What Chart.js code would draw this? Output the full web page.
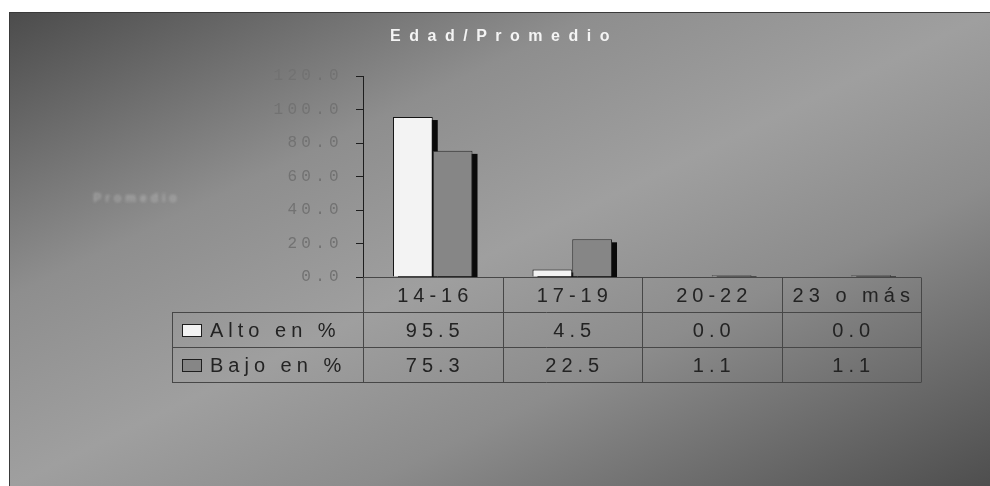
<!DOCTYPE html>
<html>
<head>
<meta charset="utf-8">
<script src="https://cdn.jsdelivr.net/npm/chart.js@4/dist/chart.umd.min.js"></script>
<style>
  html, body { margin: 0; padding: 0; background: #ffffff; }
  #wrap { position: relative; width: 990px; height: 486px; overflow: hidden; }
  #panel {
    position: absolute; left: 9px; top: 12px; width: 981px; height: 474px;
    background: linear-gradient(to bottom right, #4c4c4c 0%, #8e8e8e 30%, #9f9f9f 50%, #8c8c8c 68%, #4e4e4e 100%);
    border-top: 1px solid #3a3a3a; border-left: 1px solid #3a3a3a;
    box-sizing: border-box;
  }
  #chart { position: absolute; left: 0; top: 0; }
</style>
</head>
<body>
<div id="wrap">
  <div id="panel"></div>
  <canvas id="chart" width="990" height="486"></canvas>
</div>
<script>
// Age groups and the share (%) of "alto" / "bajo" averages in each group
const categories = ['14-16', '17-19', '20-22', '23 o más'];
const altoValues = [95.5, 4.5, 0.0, 0.0];
const bajoValues = [75.3, 22.5, 1.1, 1.1];
const seriesNames = ['Alto en %', 'Bajo en %'];
const chartTitle = 'Edad/Promedio';
const axisTitle = 'Promedio';
const yMin = 0, yMax = 120, yStep = 20;

const seriesFill = ['#f3f3f3', '#868686'];
const seriesBorder = ['#151515', '#2a2a2a'];

// Dark extruded side behind every bar
const barShadow = {
  id: 'barShadow',
  beforeDatasetsDraw(chart) {
    const ctx = chart.ctx;
    ctx.save();
    ctx.fillStyle = '#0a0a0a';
    chart.data.datasets.forEach((ds, di) => {
      const meta = chart.getDatasetMeta(di);
      meta.data.forEach((bar, i) => {
        if (!ds.data[i]) return;
        const left = bar.x - bar.width / 2;
        const h = bar.base - bar.y;
        const dy = Math.min(3, h);
        ctx.fillRect(left + 5, bar.y + dy, bar.width, h - dy + 1);
      });
    });
    ctx.restore();
  }
};

// Tick text spacing, title, side label and the data table under the axis
const decorations = {
  id: 'decorations',
  beforeDraw(chart) {
    chart.ctx.letterSpacing = '4.3px';
  },
  afterDraw(chart) {
    const ctx = chart.ctx;
    const area = chart.chartArea;
    const xs = chart.scales.x;
    const n = categories.length;
    const colW = (area.right - area.left) / n;
    const rowH = 35;
    const top = area.bottom;
    const legendLeft = 172;

    ctx.save();
    // title
    ctx.letterSpacing = '8.5px';
    ctx.font = 'bold 16px "Liberation Sans", Arial, sans-serif';
    ctx.fillStyle = '#f4f4f4';
    ctx.textAlign = 'center';
    ctx.textBaseline = 'middle';
    ctx.fillText(chartTitle, 500 + 4, 37);

    // faint side label
    ctx.save();
    ctx.filter = 'blur(1.6px)';
    ctx.letterSpacing = '4px';
    ctx.font = 'bold 12px "Liberation Sans", Arial, sans-serif';
    ctx.fillStyle = 'rgba(225,225,225,0.4)';
    ctx.fillText(axisTitle, 137, 199);
    ctx.restore();

    // table grid
    ctx.strokeStyle = '#474747';
    ctx.lineWidth = 1;
    const rows = [top, top + rowH, top + 2 * rowH, top + 3 * rowH].map(v => Math.round(v) + 0.5);
    ctx.beginPath();
    // header row spans the category columns
    ctx.moveTo(area.left, rows[0]); ctx.lineTo(area.right, rows[0]);
    // value rows span the legend column too
    for (let r = 1; r <= 3; r++) {
      ctx.moveTo(legendLeft, rows[r]); ctx.lineTo(area.right, rows[r]);
    }
    ctx.moveTo(legendLeft + 0.5, rows[1]); ctx.lineTo(legendLeft + 0.5, rows[3]);
    for (let i = 0; i <= n; i++) {
      const x = Math.round(area.left + i * colW) + 0.5;
      ctx.moveTo(x, rows[0]); ctx.lineTo(x, rows[3]);
    }
    ctx.stroke();

    // header and value text
    ctx.letterSpacing = '5px';
    ctx.font = '20px "Liberation Sans", Arial, sans-serif';
    ctx.fillStyle = '#232323';
    ctx.textAlign = 'center';
    ctx.textBaseline = 'middle';
    const series = [altoValues, bajoValues];
    categories.forEach((c, i) => {
      const cx = xs.getPixelForValue(i) + 2.5;
      ctx.fillText(c, cx, (rows[0] + rows[1]) / 2 + 1);
      series.forEach((vals, s) => {
        ctx.fillText(vals[i].toFixed(1), cx, (rows[s + 1] + rows[s + 2]) / 2 + 1);
      });
    });

    // legend keys
    ctx.textAlign = 'left';
    seriesNames.forEach((name, s) => {
      const cy = (rows[s + 1] + rows[s + 2]) / 2;
      ctx.fillStyle = seriesFill[s];
      ctx.fillRect(legendLeft + 10, cy - 6, 20, 13);
      ctx.strokeStyle = '#1e1e1e';
      ctx.strokeRect(legendLeft + 10.5, cy - 5.5, 19, 12);
      ctx.fillStyle = '#232323';
      ctx.fillText(name, legendLeft + 38, cy + 1);
    });
    ctx.restore();
  }
};

new Chart(document.getElementById('chart'), {
  type: 'bar',
  data: {
    labels: categories,
    datasets: [
      { label: seriesNames[0], data: altoValues, backgroundColor: seriesFill[0], borderColor: seriesBorder[0], borderWidth: 1 },
      { label: seriesNames[1], data: bajoValues, backgroundColor: seriesFill[1], borderColor: seriesBorder[1], borderWidth: 1 }
    ]
  },
  options: {
    responsive: false,
    animation: false,
    devicePixelRatio: 1,
    layout: { padding: { left: 0, right: 69, top: 76, bottom: 209 } },
    datasets: { bar: { categoryPercentage: 0.57, barPercentage: 1.0 } },
    plugins: {
      legend: { display: false },
      title: { display: false },
      tooltip: { enabled: false }
    },
    scales: {
      x: { display: false },
      y: {
        min: yMin,
        max: yMax,
        afterFit(scale) { scale.width = 363; },
        ticks: {
          stepSize: yStep,
          autoSkip: false,
          callback: v => Number(v).toFixed(1),
          font: { family: '"Liberation Mono", "Courier New", monospace', size: 16 },
          color: '#727272',
          padding: 13
        },
        grid: { drawOnChartArea: false, tickLength: 7, color: '#1e1e1e' },
        border: { color: '#1e1e1e', width: 1 }
      }
    }
  },
  plugins: [barShadow, decorations]
});
</script>
</body>
</html>
